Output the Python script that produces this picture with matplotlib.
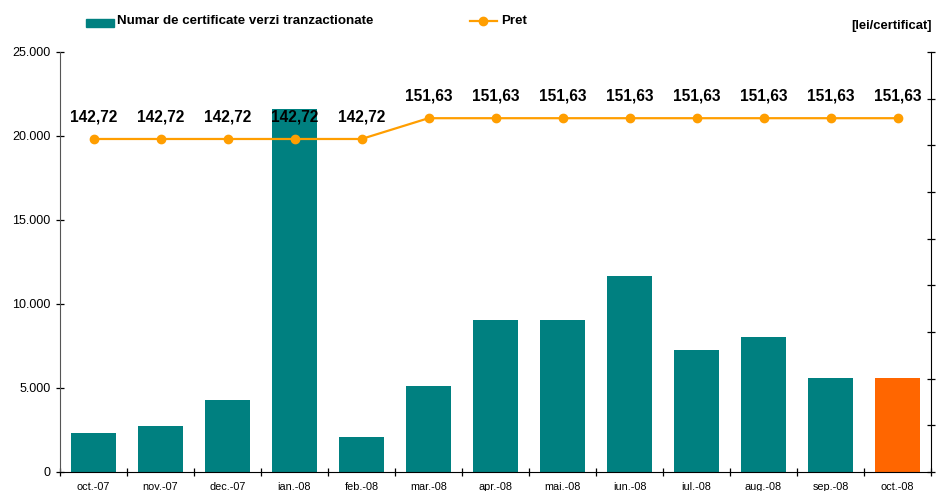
import matplotlib
matplotlib.use("Agg")
import matplotlib.pyplot as plt
import numpy as np
from matplotlib.patches import Rectangle
from matplotlib.lines import Line2D
from matplotlib.ticker import FuncFormatter

plt.rcParams["font.family"] = ["Liberation Sans", "DejaVu Sans"]

# ── date ─────────────────────────────────────────
luni = ["oct.-07", "nov.-07", "dec.-07", "ian.-08", "feb.-08", "mar.-08",
        "apr.-08", "mai.-08", "iun.-08", "iul.-08", "aug.-08", "sep.-08", "oct.-08"]
certificate = [2340, 2750, 4290, 21600, 2080, 5120,
               9050, 9050, 11680, 7260, 8040, 5600, 5600]
pret = [142.72, 142.72, 142.72, 142.72, 142.72, 151.63,
        151.63, 151.63, 151.63, 151.63, 151.63, 151.63, 151.63]

TEAL = "#008080"
ORANGE = "#FF6600"
LINIE = "#FF9E00"

fig = plt.figure(figsize=(9.39, 4.91), dpi=100)
ax = fig.add_axes([60 / 939, 19 / 491, 871 / 939, 420 / 491])

x = np.arange(len(luni))
culori = [TEAL] * (len(luni) - 1) + [ORANGE]
ax.bar(x, certificate, width=0.67, color=culori, zorder=2)

ax.set_xlim(-0.5, len(luni) - 0.5)
ax.set_ylim(0, 25000)
ax.set_yticks(np.arange(0, 25001, 5000))
ax.yaxis.set_major_formatter(FuncFormatter(lambda v, p: f"{int(v):,}".replace(",", ".")))
ax.set_xticks(x)
ax.set_xticklabels(luni, fontsize=7.8)
ax.set_xticks(np.arange(-0.5, len(luni), 1), minor=True)
ax.tick_params(axis="x", which="major", length=0, pad=7)
ax.tick_params(axis="x", which="minor", length=6, direction="inout", width=0.9)
ax.tick_params(axis="y", labelsize=9, length=6, direction="inout", width=0.9, pad=4)
ax.spines["top"].set_visible(False)
ax.spines["right"].set_visible(False)
ax.spines["left"].set_color("#555555")

# axa din dreapta (pret), fara etichete
ax2 = ax.twinx()
ax2.set_ylim(0, 180)
ax2.set_yticks(np.arange(0, 181, 20))
ax2.set_yticklabels([])
ax2.tick_params(axis="y", length=6, direction="inout", width=0.9)
ax2.spines["top"].set_visible(False)
ax2.spines["left"].set_visible(False)
ax2.spines["bottom"].set_visible(False)

ax2.plot(x, pret, color=LINIE, lw=1.6, marker="o", markersize=6, zorder=3)
for xi, p in zip(x, pret):
    ax2.annotate(f"{p:.2f}".replace(".", ","), (xi, p), xytext=(0, 22),
                 textcoords="offset pixels", ha="center", va="center",
                 fontsize=11.2, fontweight="bold")

# legenda manuala
fig.patches.append(Rectangle((86 / 939, 1 - 27 / 491), 28 / 939, 8 / 491,
                             transform=fig.transFigure, color=TEAL))
fig.text(117 / 939, 1 - 21 / 491, "Numar de certificate verzi tranzactionate",
         fontsize=9.6, fontweight="bold", va="center", ha="left")
fig.lines.append(Line2D([470 / 939, 497 / 939], [1 - 21 / 491, 1 - 21 / 491],
                        transform=fig.transFigure, color=LINIE, lw=1.6))
fig.lines.append(Line2D([483 / 939], [1 - 21 / 491], transform=fig.transFigure,
                        color=LINIE, marker="o", markersize=6, lw=0))
fig.text(501 / 939, 1 - 21 / 491, "Pret", fontsize=9.6, fontweight="bold",
         va="center", ha="left")
fig.text(932 / 939, 1 - 26 / 491, "[lei/certificat]", fontsize=9.4,
         fontweight="bold", va="center", ha="right")

fig.savefig("out.png", dpi=100)
